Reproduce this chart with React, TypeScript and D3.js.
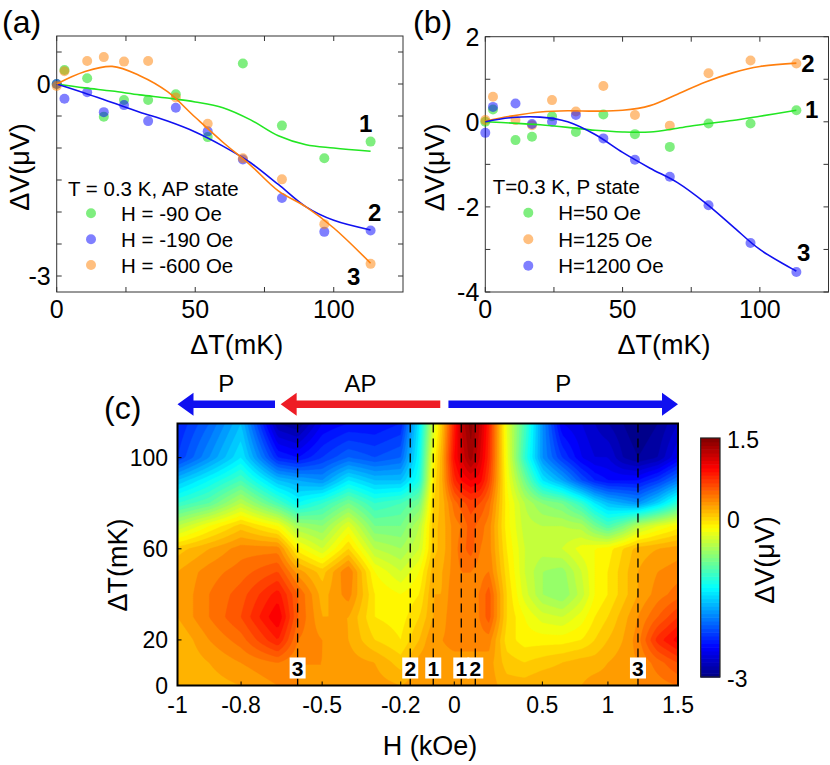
import React, { useMemo } from 'react';
import * as d3 from 'd3';

const FONT = "'Liberation Sans', Arial, Helvetica, sans-serif";

// ---------- panels (a) and (b): data ----------
const dT = [0, 2.8, 11, 17, 24.3, 33, 43, 54.5, 67.2, 81.3, 96.6, 113.3];
const aGreen = [0, 0.22, 0.09, -0.51, -0.25, -0.25, -0.16, -0.83, 0.32, -0.65, -1.16, -0.9];
const aBlue = [0, -0.23, -0.13, -0.44, -0.33, -0.58, -0.37, -0.74, -1.18, -1.78, -2.31, -2.29];
const aOrange = [-0.03, 0.2, 0.36, 0.42, 0.35, 0.36, -0.21, -0.62, -1.16, -1.49, -2.19, -2.81];

const bGreen = [0, 0.29, -0.43, -0.35, 0.13, -0.24, 0.17, -0.29, -0.59, -0.04, -0.04, 0.27];
const bOrange = [0.04, 0.59, 0.04, -0.08, 0.51, 0.24, 0.84, 0.16, -0.09, 1.14, 1.44, 1.37];
const bBlue = [-0.26, 0.35, 0.43, -0.05, 0.0, 0.16, -0.39, -0.89, -1.29, -1.96, -2.85, -3.53];

const fitT = [0, 10, 20, 30, 40, 50, 60, 70, 80, 90, 100, 113.3];
const aGreenFit = [0, -0.06, -0.11, -0.17, -0.22, -0.28, -0.37, -0.56, -0.81, -0.95, -1.0, -1.05];
const aBlueFit = [0, -0.14, -0.29, -0.44, -0.58, -0.75, -0.97, -1.23, -1.57, -1.92, -2.13, -2.28];
const aOrangeFit = [0, 0.19, 0.275, 0.13, -0.12, -0.52, -0.91, -1.27, -1.67, -1.92, -2.25, -2.8];
const bGreenFit = [0, -0.03, -0.07, -0.13, -0.2, -0.24, -0.24, -0.15, -0.05, 0.03, 0.13, 0.27];
const bOrangeFit = [0.02, 0.14, 0.23, 0.26, 0.25, 0.27, 0.38, 0.65, 0.93, 1.15, 1.3, 1.38];
const bBlueFit = [0, 0.1, 0.11, 0.0, -0.3, -0.72, -1.09, -1.43, -1.9, -2.45, -3.0, -3.51];

const aNames = ['H = -90 Oe', 'H = -190 Oe', 'H = -600 Oe'];
const bNames = ['H=50 Oe', 'H=125 Oe', 'H=1200 Oe'];
const aNumbers = [
  { t: '1', x: 111.5, v: -0.61 },
  { t: '2', x: 114.8, v: -2.0 },
  { t: '3', x: 107.2, v: -3.0 },
];
const bNumbers = [
  { t: '2', x: 117.5, v: 1.36 },
  { t: '1', x: 118.9, v: 0.3 },
  { t: '3', x: 116.0, v: -3.08 },
];

// ---------- panel (c): data ----------
const hCols = [-1, -0.9, -0.8, -0.67, -0.6, -0.5, -0.4, -0.3, -0.2, -0.15, -0.09, -0.05, 0, 0.05, 0.1, 0.15, 0.2, 0.3, 0.4, 0.5, 0.65, 0.8, 0.9, 1.0, 1.1, 1.2, 1.35, 1.5];
const tRows = [0, 10, 20, 30, 40, 50, 60, 70, 80, 90, 100, 115];
const dvT0 = [0.1, 0.15, 0.2, 0.3, 0.3, 0.3, 0.25, 0.25, 0.2, 0.25, 0.3, 0.3, 0.25, 0.25, 0.25, 0.25, 0.25, 0.15, 0.15, 0.2, 0.2, 0.2, 0.25, 0.25, 0.25, 0.3, 0.35, 0.4];
const dvT10 = [0.1, 0.2, 0.3, 0.4, 0.3, 0.3, 0.25, 0.2, 0.05, 0.25, 0.3, 0.25, 0.25, 0.25, 0.25, 0.25, 0.25, 0.05, 0.0, 0.05, 0.1, 0.15, 0.15, 0.2, 0.25, 0.3, 0.45, 0.6];
const dvT20 = [0.1, 0.3, 0.45, 0.8, 0.4, 0.3, 0.2, 0.0, -0.1, 0.1, 0.3, 0.3, 0.35, 0.35, 0.35, 0.35, 0.35, -0.05, -0.15, -0.15, -0.15, -0.1, 0.0, 0.1, 0.2, 0.35, 0.75, 0.95];
const dvT30 = [0.2, 0.4, 0.6, 1.0, 0.5, 0.2, 0.2, -0.1, -0.15, 0.0, 0.2, 0.25, 0.4, 0.4, 0.35, 0.4, 0.55, 0.0, -0.2, -0.35, -0.4, -0.25, -0.1, 0.0, 0.15, 0.3, 0.5, 0.7];
const dvT40 = [0.2, 0.4, 0.55, 0.85, 0.5, 0.15, 0.35, -0.1, -0.2, -0.1, 0.2, 0.2, 0.4, 0.4, 0.4, 0.4, 0.55, 0.0, -0.35, -0.6, -0.7, -0.45, -0.2, -0.1, 0.05, 0.2, 0.35, 0.45];
const dvT50 = [0.2, 0.35, 0.45, 0.6, 0.25, 0.05, 0.4, -0.2, -0.4, -0.2, 0.15, 0.2, 0.35, 0.4, 0.4, 0.35, 0.4, -0.05, -0.4, -0.6, -0.65, -0.4, -0.2, -0.1, 0.05, 0.2, 0.3, 0.35];
const dvT60 = [0.05, 0.2, 0.35, 0.35, -0.15, -0.4, 0.0, -0.5, -0.6, -0.4, 0.05, 0.15, 0.35, 0.45, 0.55, 0.4, 0.35, -0.1, -0.4, -0.45, -0.4, -0.25, -0.2, -0.15, 0.0, 0.15, 0.2, 0.25];
const dvT70 = [-0.5, -0.2, 0.05, -0.2, -0.6, -0.7, -0.3, -0.8, -0.8, -0.5, 0.05, 0.15, 0.35, 0.4, 0.55, 0.45, 0.35, -0.15, -0.45, -0.5, -0.5, -0.55, -0.8, -1.0, -0.8, -0.5, -0.3, -0.15];
const dvT80 = [-1.1, -0.9, -0.5, -1.0, -1.3, -1.1, -0.8, -1.1, -1.0, -0.8, 0.0, 0.15, 0.45, 0.55, 0.65, 0.6, 0.45, -0.15, -0.5, -0.7, -0.8, -1.1, -1.4, -1.6, -1.7, -1.8, -1.5, -1.1];
const dvT90 = [-1.6, -1.3, -1.0, -1.6, -1.7, -1.8, -1.4, -1.6, -1.6, -1.2, -0.1, 0.2, 0.75, 0.9, 1.0, 0.95, 0.65, -0.2, -0.8, -1.4, -1.7, -2.1, -2.3, -2.4, -2.4, -2.4, -2.2, -1.9];
const dvT100 = [-2.2, -1.8, -1.4, -2.3, -2.4, -2.2, -2.0, -2.1, -2.0, -1.3, -0.2, 0.2, 0.9, 1.1, 1.35, 1.1, 0.75, -0.25, -1.1, -1.8, -2.2, -2.5, -2.6, -2.6, -2.8, -2.9, -2.8, -2.5];
const dvT115 = [-2.3, -2.0, -1.6, -2.8, -2.9, -2.5, -2.4, -2.4, -2.3, -1.4, -0.4, 0.1, 0.8, 1.2, 1.45, 1.2, 0.8, -0.3, -1.0, -1.8, -2.5, -2.6, -2.7, -2.8, -2.9, -3.0, -2.9, -2.7];
const dvRows = [dvT0, dvT10, dvT20, dvT30, dvT40, dvT50, dvT60, dvT70, dvT80, dvT90, dvT100, dvT115];

const hTicks = [-1, -0.8, -0.5, -0.2, 0, 0.5, 1, 1.5];
const tTicks = [0, 20, 60, 100];
const cbTicks = [1.5, 0, -3];
const markH = [-0.6, -0.19, -0.09, 0.05, 0.125, 1.2];
const markLabels = ['3', '2', '1', '1', '2', '3'];
const phases = [
  { label: 'P', from: -0.68, to: -1, color: '#1010f0' },
  { label: 'AP', from: -0.06, to: -0.66, color: '#ee1c25' },
  { label: 'P', from: -0.025, to: 1.5, color: '#1010f0' },
];

// ---------- layout ----------
const A = { l: 56.7, r: 403, t: 36, b: 292 };
const B = { l: 485.3, r: 828.5, t: 36.7, b: 292 };
const C = { l: 177.5, r: 678, t: 423.5, b: 685.5 };
// field axis is piecewise (plotted versus measurement index)
const hBreaks = [-1, -0.8, -0.6, -0.5, -0.2, -0.19, -0.09, 0, 0.05, 0.125, 0.5, 1, 1.2, 1.5];
const hFrac = [0, 0.127, 0.24, 0.289, 0.446, 0.465, 0.511, 0.553, 0.567, 0.595, 0.729, 0.86, 0.92, 1];

const jet = d3
  .scaleLinear<string>()
  .domain([0, 0.125, 0.375, 0.625, 0.875, 1])
  .range(['#000080', '#0000ff', '#00ffff', '#ffff00', '#ff0000', '#800000'])
  .interpolate(d3.interpolateRgb)
  .clamp(true);
const vScale = d3.scaleLinear().domain([-3, 1.5]).range([0, 1]).clamp(true);
const vColor = (v: number) => jet(vScale(v));

const COLORS = {
  green: { pt: '#00dd00', line: '#22e622' },
  blue: { pt: '#0000ff', line: '#1010f0' },
  orange: { pt: '#ff8000', line: '#ff7f0e' },
};

function LinePanel(props: {
  box: { l: number; r: number; t: number; b: number };
  yDomain: [number, number];
  yTickVals: number[];
  yLabelVals: number[];
  series: { pts: number[]; fit: number[]; c: { pt: string; line: string }; name: string }[];
  numbers: { t: string; x: number; v: number }[];
  legendTitle: string;
  legend: { tx: number; ty: number; mx: number; lx: number; ys: number[] };
  letter: string;
  letterX: number;
  yTitleX: number;
}) {
  const { box } = props;
  const x = d3.scaleLinear().domain([0, 125]).range([box.l, box.r]);
  const y = d3.scaleLinear().domain(props.yDomain).range([box.b, box.t]);
  const line = d3
    .line<number>()
    .x((_, i) => x(fitT[i]))
    .y((d) => y(d))
    .curve(d3.curveCatmullRom.alpha(0.5));
  const xTickVals = d3.range(0, 125, 25);
  const xLabelVals = [0, 50, 100];
  const tl = 5;
  const axisCol = '#333';
  return (
    <g>
      <rect x={box.l} y={box.t} width={box.r - box.l} height={box.b - box.t} fill="none" stroke={axisCol} strokeWidth={1} />
      {xTickVals.map((v) => (
        <g key={'xt' + v}>
          <line x1={x(v)} x2={x(v)} y1={box.b} y2={box.b - tl} stroke={axisCol} />
          <line x1={x(v)} x2={x(v)} y1={box.t} y2={box.t + tl} stroke={axisCol} />
        </g>
      ))}
      {props.yTickVals.map((v) => (
        <g key={'yt' + v}>
          <line x1={box.l} x2={box.l + tl} y1={y(v)} y2={y(v)} stroke={axisCol} />
          <line x1={box.r} x2={box.r - tl} y1={y(v)} y2={y(v)} stroke={axisCol} />
        </g>
      ))}
      {xLabelVals.map((v) => (
        <text key={'xl' + v} x={x(v)} y={309} textAnchor="middle" dominantBaseline="central" fontSize={25}>
          {v}
        </text>
      ))}
      {props.yLabelVals.map((v) => (
        <text key={'yl' + v} x={box.l - 6} y={y(v)} textAnchor="end" dominantBaseline="central" fontSize={25}>
          {v}
        </text>
      ))}
      <text x={(box.l + box.r) / 2 + 7} y={345} textAnchor="middle" dominantBaseline="central" fontSize={27}>
        ΔT(mK)
      </text>
      <text
        transform={`translate(${props.yTitleX},${(box.t + box.b) / 2 + 3}) rotate(-90)`}
        textAnchor="middle"
        dominantBaseline="central"
        fontSize={27}
      >
        ΔV(μV)
      </text>
      <text x={props.letterX} y={22} dominantBaseline="central" fontSize={32}>
        {props.letter}
      </text>
      {props.series.map((s, si) => (
        <g key={'pts' + si}>
          {s.pts.map((v, i) => (
            <circle key={i} cx={x(dT[i])} cy={y(v)} r={5} fill={s.c.pt} fillOpacity={0.5} />
          ))}
        </g>
      ))}
      {props.series.map((s, si) => (
        <path key={'fit' + si} d={line(s.fit) || ''} fill="none" stroke={s.c.line} strokeWidth={1.6} />
      ))}
      {props.numbers.map((n, i) => (
        <text key={'n' + i} x={x(n.x)} y={y(n.v)} textAnchor="middle" dominantBaseline="central" fontSize={24} fontWeight="bold">
          {n.t}
        </text>
      ))}
      <text x={props.legend.tx} y={props.legend.ty} dominantBaseline="central" fontSize={20.5}>
        {props.legendTitle}
      </text>
      {props.series.map((s, i) => (
        <g key={'lg' + i}>
          <circle cx={props.legend.mx} cy={props.legend.ys[i]} r={5} fill={s.c.pt} fillOpacity={0.5} />
          <text x={props.legend.lx} y={props.legend.ys[i]} dominantBaseline="central" fontSize={20.5}>
            {s.name}
          </text>
        </g>
      ))}
    </g>
  );
}

function Heatmap() {
  const xC = d3.scaleLinear().domain(hBreaks).range(hFrac.map((f) => C.l + f * (C.r - C.l)));
  const yC = d3.scaleLinear().domain([0, 115]).range([C.b, C.t]);
  const nx = 250;
  const ny = 131;
  const cw = (C.r - C.l) / nx;
  const ch = (C.b - C.t) / ny;
  const levels = d3.range(-2.9, 1.5001, 0.1);

  const contours = useMemo(() => {
    const colPx = hCols.map((h) => xC(h));
    const values = new Array(nx * ny);
    const bis = d3.bisector((d: number) => d).right;
    for (let j = 0; j < ny; j++) {
      const t = yC.invert(C.t + (j + 0.5) * ch);
      const r = Math.min(Math.max(bis(tRows, t) - 1, 0), tRows.length - 2);
      const ft = Math.min(Math.max((t - tRows[r]) / (tRows[r + 1] - tRows[r]), 0), 1);
      for (let i = 0; i < nx; i++) {
        const px = C.l + (i + 0.5) * cw;
        const k = Math.min(Math.max(bis(colPx, px) - 1, 0), colPx.length - 2);
        const fx = Math.min(Math.max((px - colPx[k]) / (colPx[k + 1] - colPx[k]), 0), 1);
        const r0 = dvRows[r];
        const r1 = dvRows[r + 1];
        const v0 = r0[k] * (1 - fx) + r0[k + 1] * fx;
        const v1 = r1[k] * (1 - fx) + r1[k + 1] * fx;
        values[j * nx + i] = v0 * (1 - ft) + v1 * ft;
      }
    }
    return d3.contours().size([nx, ny]).thresholds(levels)(values);
  }, []);
  const path = d3.geoPath();

  const cbX0 = 700.7;
  const cbX1 = 720;
  const cbY = d3.scaleLinear().domain([-3, 1.5]).range([677, 438]);
  const cbStep = 4.5 / 64;
  const cbSteps = d3.range(-3, 1.5 - 1e-9, cbStep);

  const arrowY = 404.3;
  const arrow = (from: number, to: number) => {
    const x1 = xC(from);
    const x2 = xC(to);
    const dir = Math.sign(x2 - x1);
    const hl = 16;
    const sh = 3.7;
    const hh = 11.5;
    const xb = x2 - dir * hl;
    return `M${x1},${arrowY - sh}L${xb},${arrowY - sh}L${xb},${arrowY - hh}L${x2},${arrowY}L${xb},${arrowY + hh}L${xb},${arrowY + sh}L${x1},${arrowY + sh}Z`;
  };

  return (
    <g>
      <rect x={C.l} y={C.t} width={C.r - C.l} height={C.b - C.t} fill={vColor(-2.95)} />
      <g transform={`translate(${C.l},${C.t}) scale(${cw},${ch})`}>
        {contours.map((c, i) => (
          <path
            key={i}
            d={path(c as any) || ''}
            fill={vColor(c.value + 0.05)}
            stroke={vColor(c.value + 0.05)}
            strokeWidth={0.4}
            vectorEffect="non-scaling-stroke"
          />
        ))}
      </g>
      {markH.map((h, i) => (
        <g key={'m' + i}>
          <line x1={xC(h)} x2={xC(h)} y1={C.t} y2={C.b} stroke="#000" strokeWidth={1.3} strokeDasharray="9,6" />
          <rect x={xC(h) - 8} y={657.5} width={16} height={21} fill="#fff" />
          <text x={xC(h)} y={668.5} textAnchor="middle" dominantBaseline="central" fontSize={21} fontWeight="bold">
            {markLabels[i]}
          </text>
        </g>
      ))}
      <rect x={C.l} y={C.t} width={C.r - C.l} height={C.b - C.t} fill="none" stroke="#000" strokeWidth={2} />
      {hTicks.map((h) => (
        <g key={'ht' + h}>
          <line x1={xC(h)} x2={xC(h)} y1={C.b} y2={C.b - 4} stroke="#000" />
          <text x={xC(h)} y={705} textAnchor="middle" dominantBaseline="central" fontSize={23}>
            {h}
          </text>
        </g>
      ))}
      {tTicks.map((t) => (
        <g key={'tt' + t}>
          <line x1={C.l} x2={C.l + 4} y1={yC(t)} y2={yC(t)} stroke="#000" />
          <text x={168} y={yC(t)} textAnchor="end" dominantBaseline="central" fontSize={23}>
            {t}
          </text>
        </g>
      ))}
      <text x={430} y={746} textAnchor="middle" dominantBaseline="central" fontSize={27}>
        H (kOe)
      </text>
      <text transform={`translate(118,565) rotate(-90)`} textAnchor="middle" dominantBaseline="central" fontSize={27}>
        ΔT(mK)
      </text>
      <text x={104} y={408} dominantBaseline="central" fontSize={32}>
        (c)
      </text>
      {phases.map((p, i) => (
        <g key={'ph' + i}>
          <path d={arrow(p.from, p.to)} fill={p.color} />
          <text x={(xC(p.from) + xC(p.to)) / 2} y={383} textAnchor="middle" dominantBaseline="central" fontSize={24}>
            {p.label}
          </text>
        </g>
      ))}
      {cbSteps.map((v, i) => (
        <rect
          key={'cb' + i}
          x={cbX0}
          y={cbY(v + cbStep)}
          width={cbX1 - cbX0}
          height={cbY(v) - cbY(v + cbStep) + 0.6}
          fill={vColor(v + cbStep / 2)}
        />
      ))}
      <rect x={cbX0} y={438} width={cbX1 - cbX0} height={239} fill="none" stroke="#222" strokeWidth={1.2} />
      {cbTicks.map((v) => (
        <text key={'cbt' + v} x={727} y={cbY(v) + 2} dominantBaseline="central" fontSize={23}>
          {v}
        </text>
      ))}
      <text transform={`translate(765,560) rotate(-90)`} textAnchor="middle" dominantBaseline="central" fontSize={27}>
        ΔV(μV)
      </text>
    </g>
  );
}

export default function App() {
  const aSeries = [
    { pts: aGreen, fit: aGreenFit, c: COLORS.green, name: aNames[0] },
    { pts: aBlue, fit: aBlueFit, c: COLORS.blue, name: aNames[1] },
    { pts: aOrange, fit: aOrangeFit, c: COLORS.orange, name: aNames[2] },
  ];
  const bSeries = [
    { pts: bGreen, fit: bGreenFit, c: COLORS.green, name: bNames[0] },
    { pts: bOrange, fit: bOrangeFit, c: COLORS.orange, name: bNames[1] },
    { pts: bBlue, fit: bBlueFit, c: COLORS.blue, name: bNames[2] },
  ];
  return (
    <svg
      width={830}
      height={765}
      viewBox="0 0 830 765"
      style={{ position: 'absolute', left: 0, top: 0, background: '#fff' }}
      fontFamily={FONT}
    >
      <rect x={0} y={0} width={830} height={765} fill="#fff" />
      <LinePanel
        box={A}
        yDomain={[-3.25, 0.75]}
        yTickVals={d3.range(-3, 0.75, 0.5)}
        yLabelVals={[0, -3]}
        series={aSeries}
        numbers={aNumbers}
        legendTitle="T = 0.3 K, AP state"
        legend={{ tx: 68, ty: 188, mx: 91, lx: 121, ys: [213.3, 239.3, 265] }}
        letter="(a)"
        letterX={2}
        yTitleX={20}
      />
      <LinePanel
        box={B}
        yDomain={[-4, 2]}
        yTickVals={d3.range(-4, 2.01, 1)}
        yLabelVals={[2, 0, -2, -4]}
        series={bSeries}
        numbers={bNumbers}
        legendTitle="T=0.3 K, P state"
        legend={{ tx: 492.7, ty: 186.7, mx: 528.3, lx: 558.3, ys: [212.7, 239.3, 265.7] }}
        letter="(b)"
        letterX={413}
        yTitleX={435}
      />
      <Heatmap />
    </svg>
  );
}
